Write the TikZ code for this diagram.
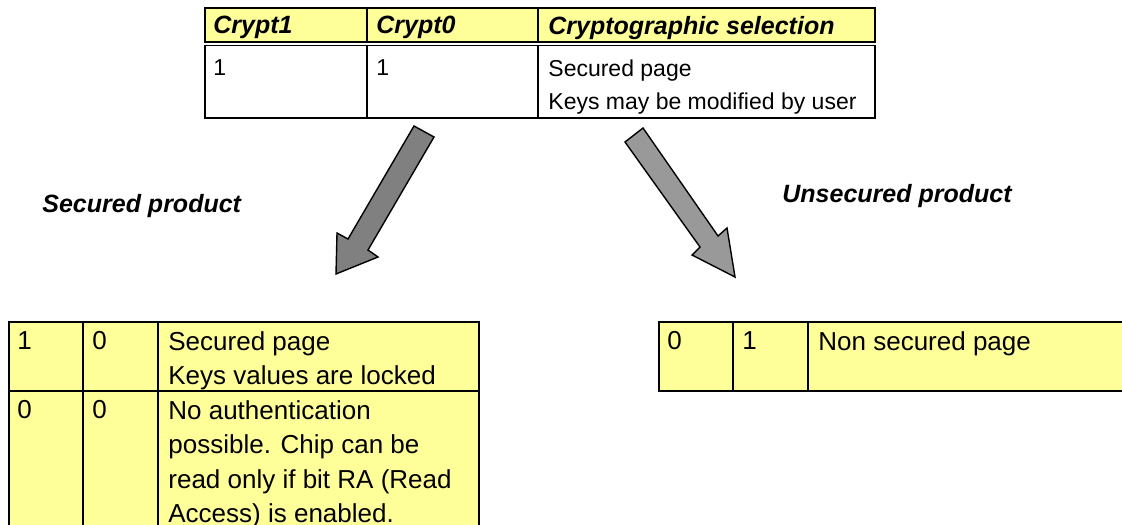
\documentclass[tikz,border=0pt]{standalone}
\usepackage{fontspec}
\setmainfont{Liberation Sans}
\usepackage{xcolor}
\definecolor{tabyellow}{HTML}{FFFF99}
\definecolor{arrowdark}{HTML}{808080}
\definecolor{arrowlight}{HTML}{999999}
\tikzset{tabline/.style={draw,line width=0.8pt},
  txt/.style={anchor=north west,inner sep=0pt,align=left,font=\fontsize{11.5}{16.5}\selectfont},
  big/.style={txt,font=\fontsize{13}{17.25}\selectfont},
  head/.style={txt,font=\fontsize{12.5}{15}\selectfont\bfseries\itshape},
  product/.style={anchor=base west,inner sep=0pt,font=\fontsize{12.5}{15}\selectfont\bfseries\itshape},
  bigarrow/.style={draw,line width=0.7pt,line join=miter}}

\begin{document}
\begin{tikzpicture}[x=0.5pt,y=-0.5pt]
\useasboundingbox (0,0) rectangle (1122,524);
\clip (0,0) rectangle (1122,524);

% crypt bits table
\fill[tabyellow] (205,8) rectangle (875,42);
\draw[tabline] (205,8) rectangle (875,42);
\draw[tabline] (205,45.5) rectangle (875,118);
\draw[tabline] (367,8) -- (367,42) (538,8) -- (538,42);
\draw[tabline] (367,45.5) -- (367,118) (538,45.5) -- (538,118);
\node[head] (h1) at (213,16) {Crypt1};
\node[head] (h0) at (376,16) {Crypt0};
\node[head] (hsel) at (548,16) {Cryptographic selection};
\node[txt] (b1) at (213,59) {1};
\node[txt] (b0) at (376,59) {1};
\node[txt] (bsel) at (548,59) {Secured page\\Keys may be modified by user};

% the two ways out
\filldraw[bigarrow,fill=arrowdark] (414,126) -- (434,137) -- (368,250) -- (378,257)
  -- (336,274) -- (337,233) -- (348,239) -- cycle;
\filldraw[bigarrow,fill=arrowlight] (643,128) -- (718,236) -- (727,228)
  -- (735,277) -- (692,255) -- (700,247) -- (625,142) -- cycle;
\node[product] (sec) at (42,212) {Secured product};
\node[product] (unsec) at (782,202) {Unsecured product};

% secured product
\fill[tabyellow] (9,322) rectangle (479,560);
\draw[tabline] (9,322) rectangle (479,560);
\draw[tabline] (9,391) -- (479,391);
\draw[tabline] (83,322) -- (83,560) (158,322) -- (158,560);
\node[big] (s1) at (17,331) {1};
\node[big] (s0) at (92,331) {0};
\node[big] (ssel) at (168,331) {Secured page\\Keys values are locked};
\node[big] (n1) at (17,400) {0};
\node[big] (n0) at (92,400) {0};
\node[big] (nsel) at (168,400) {No authentication\\possible. Chip can be\\read only if bit RA (Read\\Access) is enabled.};

% unsecured product
\fill[tabyellow] (659,322) rectangle (1140,391);
\draw[tabline] (659,322) rectangle (1140,391);
\draw[tabline] (733,322) -- (733,391) (808,322) -- (808,391);
\node[big] (u1) at (667,331) {0};
\node[big] (u0) at (742,331) {1};
\node[big] (usel) at (818,331) {Non secured page};
\end{tikzpicture}
\end{document}
